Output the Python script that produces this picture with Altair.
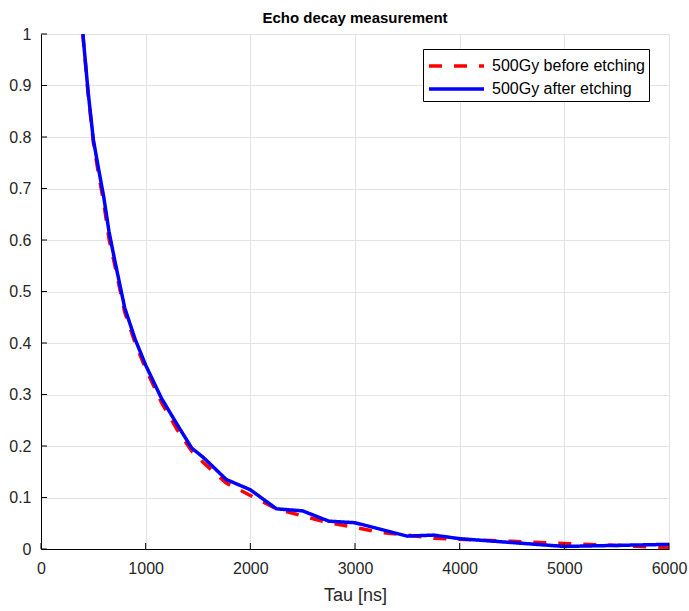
import altair as alt
import pandas as pd

# ---- data ----
tau = [400, 450, 500, 550, 600, 650, 700, 800, 900, 1000, 1150, 1300, 1440, 1550,
       1770, 2000, 2250, 2500, 2750, 3000, 3250, 3500, 3750, 4000, 4500, 5000, 5500, 6000]
before_etching = [1.00, 0.885, 0.79, 0.728, 0.672, 0.602, 0.556, 0.46, 0.40, 0.35, 0.285,
                  0.232, 0.19, 0.168, 0.128, 0.104, 0.078, 0.064, 0.051, 0.042, 0.032,
                  0.027, 0.021, 0.019, 0.015, 0.0105, 0.007, 0.002]
after_etching = [1.00, 0.888, 0.795, 0.738, 0.683, 0.616, 0.565, 0.468, 0.407, 0.357, 0.293,
                 0.242, 0.196, 0.178, 0.135, 0.115, 0.078, 0.074, 0.054, 0.051, 0.038,
                 0.025, 0.027, 0.020, 0.0125, 0.005, 0.007, 0.009]
series_names = ["500Gy before etching", "500Gy after etching"]
x_ticks = [0, 1000, 2000, 3000, 4000, 5000, 6000]
y_ticks = [0, 0.1, 0.2, 0.3, 0.4, 0.5, 0.6, 0.7, 0.8, 0.9, 1]

W, H = 628, 515
FONT = "Liberation Sans"

df_before = pd.DataFrame({"tau": tau, "v": before_etching, "series": series_names[0]})
df_after = pd.DataFrame({"tau": tau, "v": after_etching, "series": series_names[1]})
df_xt = pd.DataFrame({"tau": x_ticks})
df_yt = pd.DataFrame({"v": y_ticks})

x_enc = alt.X("tau:Q", scale=alt.Scale(domain=[0, 6000], nice=False),
              axis=alt.Axis(values=x_ticks, title="Tau [ns]", format="d", labelFlush=False))
y_enc = alt.Y("v:Q", scale=alt.Scale(domain=[0, 1], nice=False),
              axis=alt.Axis(values=y_ticks, title=None, format=".1~f", labelFlush=False))

color_scale = alt.Scale(domain=series_names, range=["#ff0000", "#0000ff"])
dash_scale = alt.Scale(domain=series_names, range=[[13, 12], [1, 0]])

legend = alt.Legend(title=None, symbolType="M-1,0H4", symbolSize=484,
                    symbolStrokeWidth=3.5, labelOffset=39)

def line_layer(df):
    return alt.Chart(df).mark_line(strokeWidth=3.5, clip=True).encode(
        x=x_enc,
        y=y_enc,
        color=alt.Color("series:N", scale=color_scale, legend=legend),
        strokeDash=alt.StrokeDash("series:N", scale=dash_scale, legend=legend),
    )

red = line_layer(df_before)
blue = line_layer(df_after)

xticks_in = alt.Chart(df_xt).mark_rule(color="black", strokeWidth=1).encode(
    x=x_enc, y=alt.value(H), y2=alt.value(H - 6)
)
yticks_in = alt.Chart(df_yt).mark_rule(color="black", strokeWidth=1).encode(
    y=y_enc, x=alt.value(0), x2=alt.value(6)
)

chart = alt.layer(red, blue, xticks_in, yticks_in).properties(
    width=W,
    height=H,
    title=alt.TitleParams("Echo decay measurement", fontSize=15, fontWeight="bold",
                          font=FONT, anchor="middle", offset=0, color="black",
                          frame="group"),
    autosize=alt.AutoSizeParams(type="none"),
    padding={"left": 41, "top": 34, "right": 20, "bottom": 62},
).configure_view(
    stroke=None
).configure_axis(
    labelFont=FONT, labelFontSize=16, labelColor="#262626",
    titleFont=FONT, titleFontSize=18, titleFontWeight="normal", titleColor="#262626",
    domainColor="black", domainWidth=1,
    gridColor="#e3e3e3", gridWidth=1,
    ticks=False,
).configure_axisX(
    labelPadding=11, titlePadding=10,
).configure_axisY(
    labelPadding=10,
).configure_legend(
    orient="none", legendX=382, legendY=15,
    strokeColor="black", fillColor="white", padding=4, cornerRadius=0,
    labelFont=FONT, labelFontSize=16, labelColor="black",
    rowPadding=2,
)

chart.save("out.html", embed_options={"renderer": "svg", "actions": False})
